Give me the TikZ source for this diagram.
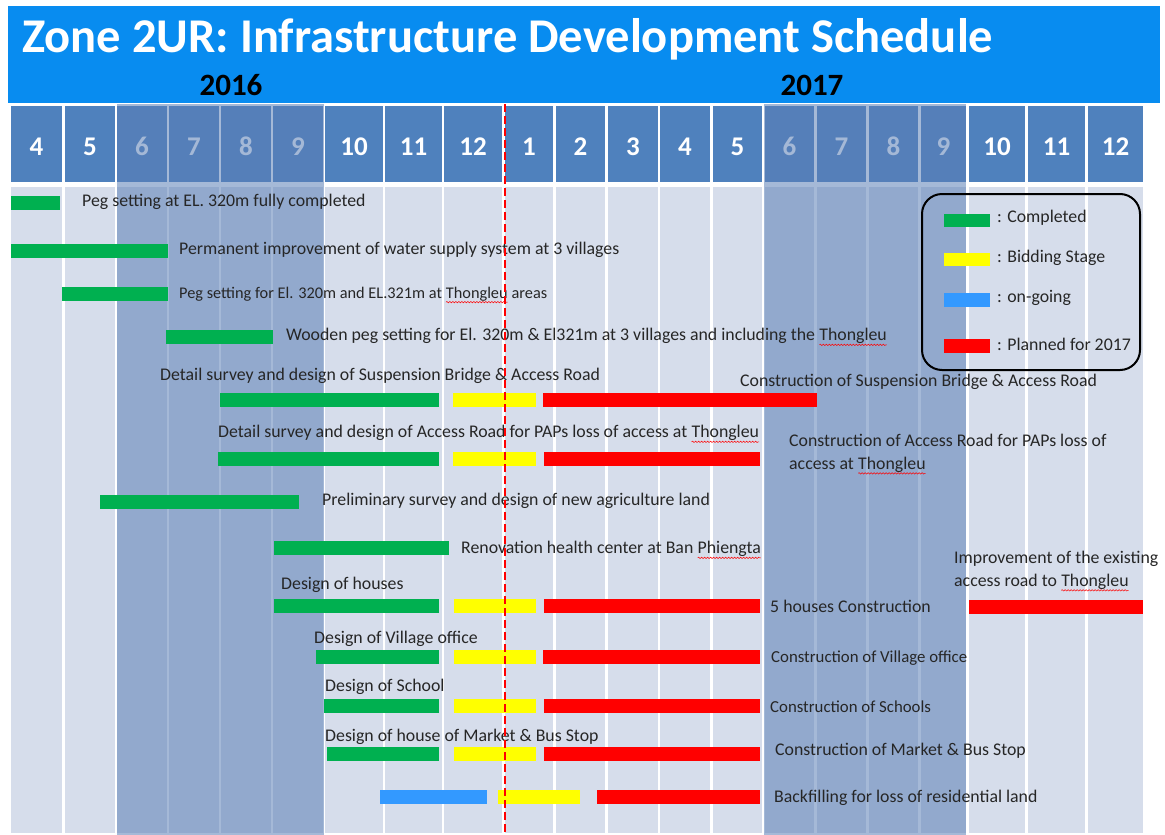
\documentclass[tikz,border=0pt]{standalone}
\usepackage{fontspec}
\setmainfont{Carlito}
\usetikzlibrary{decorations.pathmorphing}

\definecolor{titleblue}{RGB}{8,140,240}
\definecolor{cellblue}{RGB}{79,129,189}
\definecolor{lane}{RGB}{214,221,235}
\definecolor{shade}{RGB}{91,127,182}
\definecolor{gdone}{RGB}{0,176,80}
\definecolor{ybid}{RGB}{255,255,0}
\definecolor{bgo}{RGB}{51,153,255}
\definecolor{rplan}{RGB}{255,0,0}
\definecolor{ink}{RGB}{38,38,38}

% word with a red wavy underline
\newcommand\squig[1]{\tikz[baseline=(w.base)]{\node[inner sep=0pt,outer sep=0pt,anchor=base] (w) {#1};
  \draw[rplan,line width=0.5pt,decorate,decoration={snake,amplitude=0.7pt,segment length=3pt}]
    ([yshift=-1.2pt]w.south west) -- ([yshift=-1.2pt]w.south east);}}

% one schedule bar: colour, start x, end x, centre y
\newcommand\taskbar[4]{\fill[#1] (#2,#4-7) rectangle (#3,#4+7);}

\tikzset{
  lbl/.style={anchor=west, inner sep=0pt, text=ink, font=\fontsize{17.8}{23}\selectfont, align=left},
  small/.style={font=\fontsize{16.3}{21}\selectfont},
  medium/.style={font=\fontsize{16.8}{21}\selectfont},
  monthnum/.style={anchor=base, inner sep=0pt, text=white, font=\bfseries\fontsize{27}{27}\selectfont},
  yearlbl/.style={anchor=base, inner sep=0pt, text=black, font=\bfseries\fontsize{31}{31}\selectfont},
  overlay/.style={fill=shade, fill opacity=0.55},
}

\begin{document}
\begin{tikzpicture}[x=1pt,y=-1pt]
\useasboundingbox (0,0) rectangle (1165,835);

% title band
\fill[titleblue] (8,6) rectangle (1160,103);
\node[anchor=base west, inner sep=0pt, text=white, font=\bfseries\fontsize{48.5}{48.5}\selectfont]
  (title) at (22,52) {Zone 2UR: Infrastructure Development Schedule};
\node[yearlbl] (y2016) at (231,95) {2016};
\node[yearlbl] (y2017) at (812,95) {2017};

% month header cells and body lanes
\foreach \l/\r/\m [count=\i] in {11/62/4, 65/115/5, 117/167/6, 169/219/7, 221/271/8, 273/323/9,
    325/383/10, 385/442/11, 444/502/12, 505/553/1, 556/605/2, 608/658/3, 660/710/4, 713/762/5,
    765/814/6, 817/866/7, 869/918/8, 921/966/9, 969/1025/10, 1028/1085/11, 1088/1143/12}{
  \fill[cellblue] (\l,106) rectangle (\r,182);
  \fill[lane] (\l,187) rectangle (\r,833);
  \node[monthnum] (m\i) at ({(\l+\r)/2},155) {\m};
}

% rainy-season shading (June to September)
\fill[overlay] (117,104) rectangle (324,835);
\fill[overlay] (764,104) rectangle (966,835);

% bars
\taskbar{gdone}{11}{60}{203}
\taskbar{gdone}{11}{168}{251}
\taskbar{gdone}{62}{168}{294}
\taskbar{gdone}{166}{273}{337}
\taskbar{gdone}{220}{439}{400} \taskbar{ybid}{453}{536}{400} \taskbar{rplan}{543}{817}{400}
\taskbar{gdone}{218}{439}{459} \taskbar{ybid}{453}{536}{459} \taskbar{rplan}{544}{760}{459}
\taskbar{gdone}{100}{299}{502}
\taskbar{gdone}{274}{449}{548}
\taskbar{gdone}{274}{439}{606} \taskbar{ybid}{454}{536}{606} \taskbar{rplan}{544}{760}{606}
\taskbar{rplan}{969}{1143}{607}
\taskbar{gdone}{316}{439}{657} \taskbar{ybid}{454}{536}{657} \taskbar{rplan}{543}{760}{657}
\taskbar{gdone}{324}{439}{706} \taskbar{ybid}{454}{536}{706} \taskbar{rplan}{544}{760}{706}
\taskbar{gdone}{327}{439}{754} \taskbar{ybid}{454}{536}{754} \taskbar{rplan}{544}{760}{754}
\taskbar{bgo}{380}{487}{797} \taskbar{ybid}{498}{580}{797} \taskbar{rplan}{597}{760}{797}

% task labels
\node[lbl] (t1) at (82,202) {Peg setting at EL. 320m fully completed};
\node[lbl] (t2) at (179,250) {Permanent improvement of water supply system at 3 villages};
\node[lbl,small] (t3) at (179,295) {Peg setting for El. 320m and EL.321m at \squig{Thongleu} areas};
\node[lbl] (t4) at (286,337) {Wooden peg setting for El. 320m \& El321m at 3 villages and including the \squig{Thongleu}};
\node[lbl] (t5a) at (160,376) {Detail survey and design of Suspension Bridge \& Access Road};
\node[lbl] (t5b) at (740,382) {Construction of Suspension Bridge \& Access Road};
\node[lbl] (t6a) at (218,434) {Detail survey and design of Access Road for PAPs loss of access at \squig{Thongleu}};
\node[lbl] (t6b) at (789,454) {Construction of Access Road for PAPs loss of\\access at \squig{Thongleu}};
\node[lbl] (t7) at (322,501) {Preliminary survey and design of new agriculture land};
\node[lbl] (t8) at (461,550) {Renovation health center at Ban \squig{Phiengta}};
\node[lbl] (t9a) at (281,585) {Design of houses};
\node[lbl] (t9b) at (770,606) {5 houses Construction};
\node[lbl] (t9c) at (954,571) {Improvement of the existing\\access road to \squig{Thongleu}};
\node[lbl] (t10a) at (314,639) {Design of Village office};
\node[lbl,medium] (t10b) at (771,658) {Construction of Village office};
\node[lbl] (t11a) at (325,687) {Design of School};
\node[lbl,medium] (t11b) at (770,707) {Construction of Schools};
\node[lbl] (t12a) at (325,737) {Design of house of Market \& Bus Stop};
\node[lbl] (t12b) at (775,751) {Construction of Market \& Bus Stop};
\node[lbl] (t13b) at (774,798) {Backfilling for loss of residential land};

% year boundary
\draw[rplan, line width=2pt, dash pattern=on 8pt off 4pt] (505,104) -- (505,835);

% legend
\draw[black, line width=2pt, rounded corners=20pt] (922,194) rectangle (1140,370);
\fill[gdone] (944,214) rectangle (990,227);
\fill[ybid] (944,253) rectangle (990,266);
\fill[bgo] (944,293) rectangle (990,307);
\fill[rplan] (944,339) rectangle (990,353);
\node[lbl] (k1) at (997,218) {: Completed};
\node[lbl] (k2) at (997,258) {: Bidding Stage};
\node[lbl] (k3) at (997,298) {: on-going};
\node[lbl] (k4) at (997,344) {: Planned for 2017};
\end{tikzpicture}
\end{document}
